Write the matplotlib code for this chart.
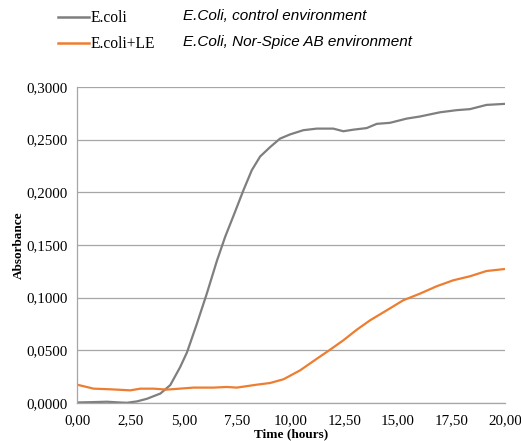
import matplotlib
matplotlib.use("Agg")
import matplotlib.pyplot as plt
from matplotlib.lines import Line2D
from matplotlib.ticker import FuncFormatter

# Data
t_ecoli = [0, 0.7, 1.4, 1.9, 2.33, 2.8, 3.27, 3.9, 4.36, 4.82, 5.14, 5.6, 6.07, 6.54, 6.93,
           7.32, 7.78, 8.17, 8.56, 9.03, 9.49, 9.96, 10.58, 11.21, 11.98, 12.45, 12.92,
           13.54, 14.01, 14.63, 15.41, 16.03, 16.97, 17.74, 18.37, 19.14, 20.0]
a_ecoli = [0.0005, 0.0008, 0.0012, 0.0006, 0.0002, 0.0015, 0.004, 0.009, 0.017, 0.034, 0.048,
           0.075, 0.104, 0.135, 0.158, 0.178, 0.202, 0.221, 0.234, 0.243, 0.251, 0.255,
           0.259, 0.2605, 0.2605, 0.258, 0.2595, 0.261, 0.265, 0.266, 0.270, 0.272, 0.276,
           0.278, 0.279, 0.283, 0.284]

t_le = [0, 0.78, 1.56, 2.49, 2.96, 3.58, 4.2, 5.45, 6.38, 7.0, 7.47, 8.41, 9.03, 9.65,
        10.43, 11.21, 11.83, 12.45, 13.08, 13.7, 14.48, 15.25, 16.03, 16.81, 17.59,
        18.37, 19.14, 20.0]
a_le = [0.0174, 0.0136, 0.013, 0.012, 0.0136, 0.0136, 0.0127, 0.0146, 0.0146, 0.0152,
        0.0146, 0.0174, 0.019, 0.0225, 0.031, 0.042, 0.0506, 0.0595, 0.0696, 0.0785,
        0.088, 0.0975, 0.1038, 0.1108, 0.1165, 0.1203, 0.1253, 0.1272]

series_names = ["E.coli", "E.coli+LE"]
series_notes = ["E.Coli, control environment", "E.Coli, Nor-Spice AB environment"]
colors = ["#7f7f7f", "#ed7d31"]

fig = plt.figure(figsize=(5.21, 4.41), dpi=100)
ax = fig.add_axes([0.1478, 0.0862, 0.8212, 0.7165])

ax.plot(t_ecoli, a_ecoli, color=colors[0], lw=1.6, solid_capstyle="round")
ax.plot(t_le, a_le, color=colors[1], lw=1.6, solid_capstyle="round")

ax.set_xlim(0, 20)
ax.set_ylim(0, 0.3)
ax.set_xticks([0, 2.5, 5, 7.5, 10, 12.5, 15, 17.5, 20])
ax.set_yticks([0, 0.05, 0.1, 0.15, 0.2, 0.25, 0.3])
ax.xaxis.set_major_formatter(FuncFormatter(lambda v, p: f"{v:.2f}".replace(".", ",")))
ax.yaxis.set_major_formatter(FuncFormatter(lambda v, p: f"{v:.4f}".replace(".", ",")))
ax.grid(axis="y", color="#a6a6a6", lw=0.9)
ax.set_axisbelow(True)
for s in ["top", "right"]:
    ax.spines[s].set_visible(False)
for s in ["left", "bottom"]:
    ax.spines[s].set_color("#a6a6a6")
    ax.spines[s].set_linewidth(0.9)
ax.tick_params(axis="y", length=0, labelsize=10.8, pad=7)
ax.tick_params(axis="x", length=0, labelsize=10.8, pad=8)
for lab in ax.get_xticklabels() + ax.get_yticklabels():
    lab.set_fontfamily("Liberation Serif")

ax.set_xlabel("Time (hours)", fontfamily="Liberation Serif", fontweight="bold",
              fontsize=9.5)
ax.set_ylabel("Absorbance", fontfamily="Liberation Serif", fontweight="bold",
              fontsize=9.5)
ax.xaxis.set_label_coords(0.5, -0.098)
ax.xaxis.label.set_va("center")
ax.yaxis.set_label_coords(-0.1355, 0.5)
ax.yaxis.label.set_va("center")

# Legend area
W, H = 521, 441
ys = [17, 43]
for i in range(2):
    yf = 1 - ys[i] / H
    fig.add_artist(Line2D([58 / W, 89 / W], [yf, yf], color=colors[i], lw=1.8,
                          transform=fig.transFigure))
    fig.text(91 / W, yf - 0.003, series_names[i], fontfamily="Liberation Serif",
             fontsize=11.2, va="center", ha="left")
    fig.text(183 / W, yf + 0.002, series_notes[i], fontfamily="Liberation Sans",
             style="italic", fontsize=11, va="center", ha="left")

fig.savefig("out.png", dpi=100)
